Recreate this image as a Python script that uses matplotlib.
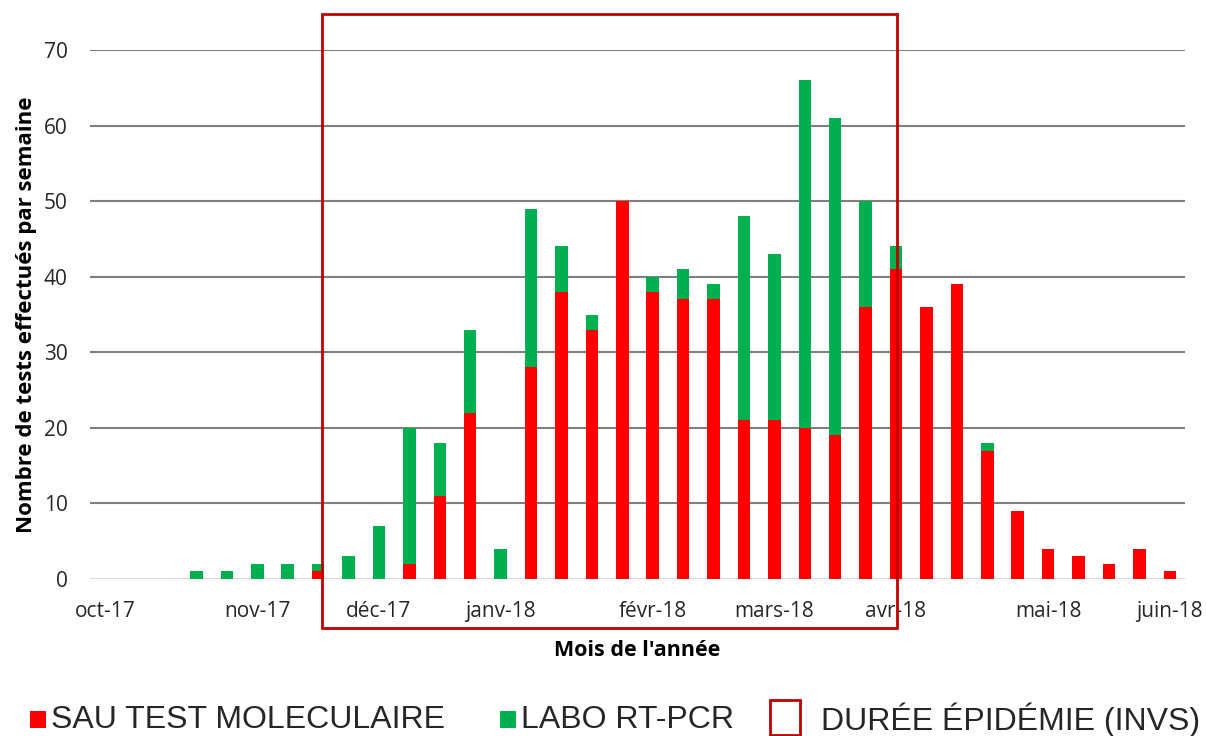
import matplotlib
matplotlib.use("Agg")
import matplotlib.pyplot as plt
import matplotlib.transforms as mtransforms
from matplotlib.patches import Rectangle
import numpy as np

# ---- data ----
n_weeks = 36
tick_idx = [0, 5, 9, 13, 18, 22, 26, 31, 35]
tick_labels = ["oct-17", "nov-17", "déc-17", "janv-18", "févr-18", "mars-18",
               "avr-18", "mai-18", "juin-18"]
sau = [0, 0, 0, 0, 0, 0, 0, 1, 0, 0, 2, 11, 22, 0, 28, 38, 33, 50, 38, 37, 37,
       21, 21, 20, 19, 36, 41, 36, 39, 17, 9, 4, 3, 2, 4, 1]
labo = [0, 0, 0, 1, 1, 2, 2, 1, 3, 7, 18, 7, 11, 4, 21, 6, 2, 0, 2, 4, 2,
        27, 22, 46, 42, 14, 3, 0, 0, 1, 0, 0, 0, 0, 0, 0]
epi_start, epi_end = 7.13, 26.04
yticks = [0, 10, 20, 30, 40, 50, 60, 70]

RED = "#FF0000"
GREEN = "#00B050"
DARKRED = "#C00000"

W, H = 1206, 736
fig = plt.figure(figsize=(W / 100, H / 100), dpi=100)
ax = fig.add_axes([90 / W, 1 - 579 / H, 1095 / W, 529 / H])

x = np.arange(n_weeks)
ax.bar(x, sau, width=0.41, color=RED, zorder=3)
ax.bar(x, labo, width=0.41, bottom=sau, color=GREEN, zorder=3)

ax.set_xlim(-0.5, n_weeks - 0.5)
ax.set_ylim(0, 70)
ax.set_yticks(yticks)
for y in yticks[1:]:
    ax.axhline(y, color="#7F7F7F", lw=1.5, zorder=1)
ax.axhline(0, color="#D9D9D9", lw=1.5, zorder=2)
for s in ax.spines.values():
    s.set_visible(False)
ax.tick_params(axis="both", length=0, labelsize=15, colors="#000000")
ax.tick_params(axis="y", pad=16)
ax.tick_params(axis="x", pad=16)
ax.set_xticks(tick_idx)
ax.set_xticklabels(tick_labels)
for lab in ax.get_xticklabels() + ax.get_yticklabels():
    lab.set_fontfamily("Open Sans")
    lab.set_color("#262626")

ax.set_xlabel("Mois de l'année", fontsize=15.5, fontweight="bold",
              fontfamily="Open Sans", labelpad=13)
ax.set_ylabel("Nombre de tests effectués par semaine", fontsize=16,
              fontweight="bold", fontfamily="Open Sans", labelpad=5)

# epidemic duration rectangle
trans = mtransforms.blended_transform_factory(ax.transData, ax.transAxes)
ax.add_patch(Rectangle((epi_start, (579 - 628) / 529), epi_end - epi_start,
                       (628 - 14) / 529, transform=trans, fill=False,
                       edgecolor=DARKRED, lw=2, clip_on=False, zorder=4))

# legend (bottom)
def fig_rect(x0, y0, w, h, **kw):
    fig.patches.append(Rectangle((x0 / W, 1 - (y0 + h) / H), w / W, h / H,
                                 transform=fig.transFigure, **kw))

fs = 23
fig_rect(30, 711, 16, 17, facecolor=RED, edgecolor="none")
fig.text(51 / W, 1 - 720 / H, "SAU TEST MOLECULAIRE", fontsize=fs,
         fontfamily="Liberation Sans", va="center", ha="left", color="#262626")
fig_rect(500, 711, 16, 17, facecolor=GREEN, edgecolor="none")
fig.text(521 / W, 1 - 720 / H, "LABO RT-PCR", fontsize=fs,
         fontfamily="Liberation Sans", va="center", ha="left", color="#262626")
fig_rect(770, 700, 30, 35, facecolor="none", edgecolor=DARKRED, lw=2)
fig.text(821 / W, 1 - 720 / H, "DURÉE ÉPIDÉMIE (INVS)", fontsize=fs,
         fontfamily="Liberation Sans", va="center", ha="left", color="#262626")

fig.savefig("out.png", dpi=100)
